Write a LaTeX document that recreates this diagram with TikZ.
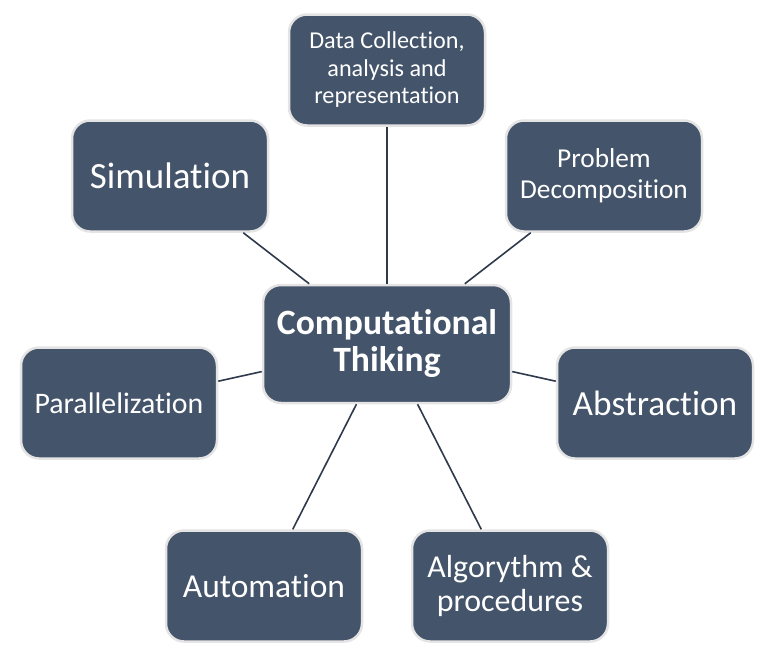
\documentclass[tikz,border=0pt]{standalone}
\usepackage{fontspec}
\setmainfont{Carlito}[RawFeature=-liga]
\definecolor{slate}{HTML}{44546A}
\definecolor{rim}{HTML}{E4E4E4}
\definecolor{link}{HTML}{2E3A4B}
\newcommand{\fs}[2]{\fontsize{#1}{#2}\selectfont}
\begin{document}
\begin{tikzpicture}[x=1pt,y=-1pt,
  box/.style={draw=rim,line width=2.5pt,fill=slate,rounded corners=18pt,text=white,align=center,inner sep=0pt,minimum width=196pt,minimum height=111pt},
  hub/.style={box,minimum width=248pt,minimum height=118pt,font=\bfseries\fs{35.6}{37}},
  link/.style={draw=link,line width=1.6pt}]
  \useasboundingbox (0,0) rectangle (775,654);
  \node[hub] (ct) at (387,344) {Computational\\Thiking};
  \node[box,font=\fs{24.2}{27.5}] (data) at (387,70) {Data Collection,\\analysis and\\representation};
  \node[box,font=\fs{37}{40}] (sim) at (170,176) {Simulation};
  \node[box,font=\fs{27.3}{31}] (prob) at (604,176) {Problem\\Decomposition};
  \node[box,font=\fs{29.8}{32}] (par) at (119,403) {Parallelization};
  \node[box,font=\fs{35.3}{38}] (abs) at (655,403) {Abstraction};
  \node[box,font=\fs{33.5}{36}] (auto) at (264,586) {Automation};
  \node[box,font=\fs{31.9}{34}] (alg) at (510,586) {Algorythm \&\\procedures};
  \foreach \n in {data,sim,prob,par,abs,auto,alg}
    \draw[link] (ct) -- (\n);
\end{tikzpicture}
\end{document}
